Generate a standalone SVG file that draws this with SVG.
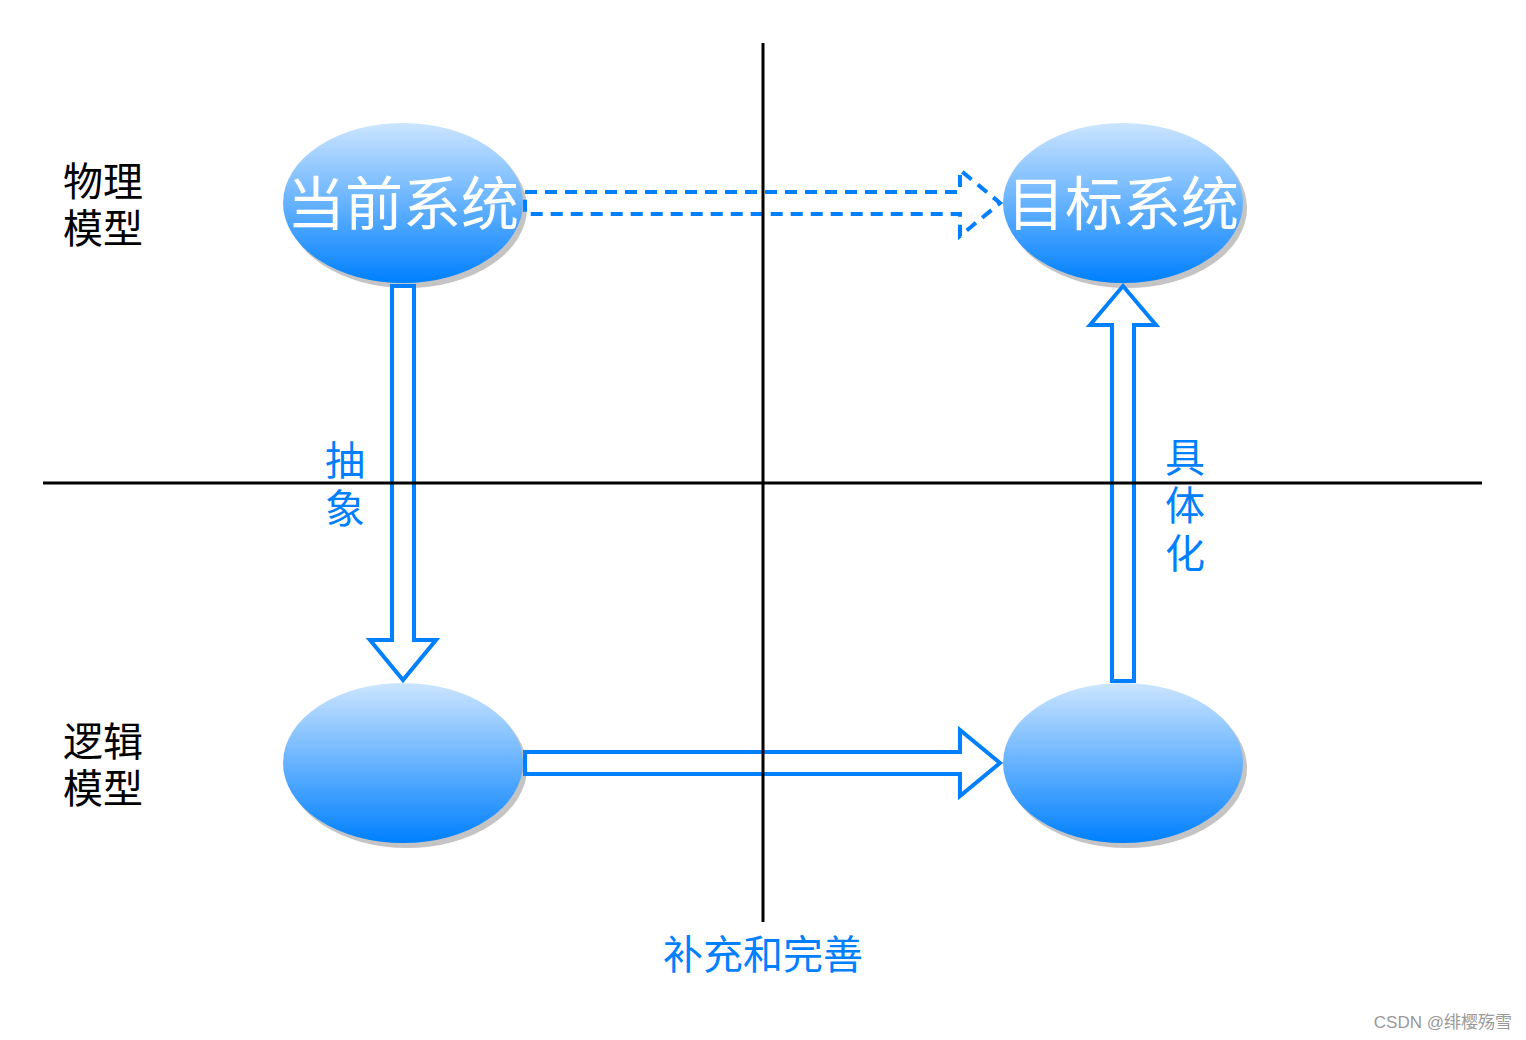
<svg xmlns="http://www.w3.org/2000/svg" width="1526" height="1040" viewBox="0 0 1526 1040">
<style>
.lbl{font-family:"Noto Sans CJK SC","Noto Sans",sans-serif;font-size:40px;fill:#000}
.blue{font-family:"Noto Sans CJK SC","Noto Sans",sans-serif;font-size:40px;fill:#0080ff}
.big{font-family:"Noto Sans CJK SC","Noto Sans",sans-serif;font-size:58px;fill:#fff;text-anchor:middle}
.arr{fill:#fff;stroke:#0080ff;stroke-width:4}
.dash{fill:none;stroke:#0080ff;stroke-width:4;stroke-dasharray:12 8}
.axis{stroke:#000;stroke-width:3}
.shadow{fill:#c4c4c4}
</style>
<defs>
<linearGradient id="g" x1="0" y1="0" x2="0" y2="1">
<stop offset="0" stop-color="#cce5ff"/>
<stop offset="1" stop-color="#0080ff"/>
</linearGradient>
</defs>
<rect width="1526" height="1040" fill="#fff"/>
<g id="node-current">
<ellipse class="shadow" cx="407" cy="208" rx="120" ry="80"/>
<ellipse cx="403" cy="203" rx="120" ry="80" fill="url(#g)"/>
<text class="big" x="403" y="225">当前系统</text>
</g>
<g id="node-target">
<ellipse class="shadow" cx="1127" cy="208" rx="120" ry="80"/>
<ellipse cx="1123" cy="203" rx="120" ry="80" fill="url(#g)"/>
<text class="big" x="1123" y="225">目标系统</text>
</g>
<g id="node-logic-current">
<ellipse class="shadow" cx="407" cy="768" rx="120" ry="80"/>
<ellipse cx="403" cy="763" rx="120" ry="80" fill="url(#g)"/>
</g>
<g id="node-logic-target">
<ellipse class="shadow" cx="1127" cy="768" rx="120" ry="80"/>
<ellipse cx="1123" cy="763" rx="120" ry="80" fill="url(#g)"/>
</g>
<g id="connectors">
<path class="arr" d="M392,286 H414 V640 H436 L403,680 L370,640 H392 Z"/>
<path class="arr" d="M1112,681 V325 H1090 L1123,286 L1156,325 H1134 V681 Z"/>
<path class="arr" d="M525,752 H960 V730 L1000,763 L960,796 V774 H525 Z"/>
<path class="dash" d="M525,192 H960 V170 L1000,203 L960,236 V214 H525 Z"/>
</g>
<g id="axes">
<line class="axis" x1="763" y1="43" x2="763" y2="922"/>
<line class="axis" x1="43" y1="483" x2="1482" y2="483"/>
</g>
<g id="labels">
<text class="lbl" x="63" y="196">物理</text>
<text class="lbl" x="63" y="243">模型</text>
<text class="lbl" x="63" y="756">逻辑</text>
<text class="lbl" x="63" y="803">模型</text>
<text class="blue" x="325" y="475">抽</text>
<text class="blue" x="325" y="523">象</text>
<text class="blue" x="1165" y="472">具</text>
<text class="blue" x="1165" y="520">体</text>
<text class="blue" x="1165" y="568">化</text>
<text class="blue" x="663" y="969">补充和完善</text>
<text x="1512" y="1028" text-anchor="end" font-family="Liberation Sans,Noto Sans CJK SC,sans-serif" font-size="17" fill="#999">CSDN @绯樱殇雪</text>
</g>
</svg>
